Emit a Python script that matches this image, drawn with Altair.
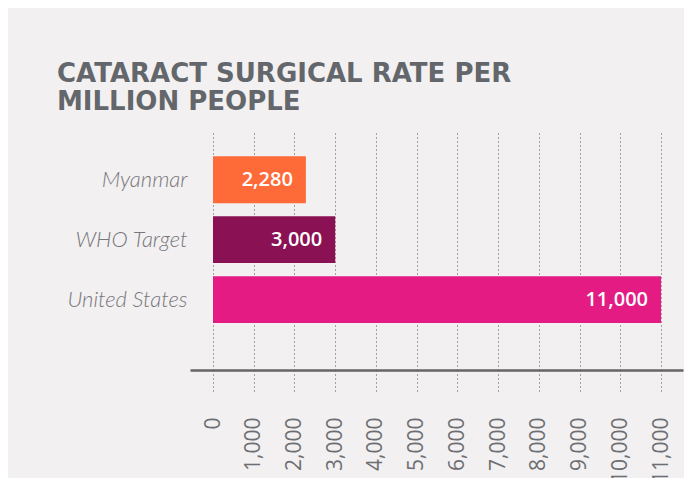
import altair as alt
import pandas as pd

categories = ["Myanmar", "WHO Target", "United States"]
values = [2280, 3000, 11000]
labels = ["2,280", "3,000", "11,000"]
colors = ["#FF6A39", "#8A1153", "#E31B83"]
tick_values = [0, 1000, 2000, 3000, 4000, 5000, 6000, 7000, 8000, 9000, 10000, 11000]

df = pd.DataFrame({"country": categories, "rate": values, "label": labels, "color": colors})

x_scale = alt.Scale(domain=[-565, 11540], nice=False, zero=False)
y_scale = alt.Scale(domain=categories, paddingInner=0.217, paddingOuter=0.592, align=0.34)

base = alt.Chart(df)

bars = base.mark_bar().encode(
    x=alt.X(
        "rate:Q",
        scale=x_scale,
        title=None,
        axis=alt.Axis(
            values=tick_values,
            format=",d",
            labelAngle=-90,
            labelFont="Open Sans",
            labelFontSize=21,
            labelColor="#6d6e71",
            labelPadding=24,
            tickSize=23,
            tickColor="#555555",
            tickDash=[1, 3],
            tickWidth=1,
            domainColor="#666666",
            domainWidth=2.5,
            grid=True,
            gridColor="#555555",
            gridDash=[1, 3],
            gridWidth=1,
            gridOpacity=1,
        ),
    ),
    y=alt.Y(
        "country:N",
        scale=y_scale,
        title=None,
        axis=alt.Axis(
            labelFont="Lato",
            labelFontStyle="italic",
            labelFontWeight=300,
            labelFontSize=22,
            labelColor="#77777b",
            labelPadding=3,
            ticks=False,
            domain=False,
        ),
    ),
    color=alt.Color("color:N", scale=None),
)

text = base.mark_text(
    align="right",
    baseline="middle",
    dx=-13,
    font="Open Sans",
    fontSize=20,
    fontWeight=600,
    color="white",
).encode(
    x=alt.X("rate:Q", scale=x_scale),
    y=alt.Y("country:N", scale=y_scale),
    text="label:N",
)

chart = alt.layer(bars, text).properties(
    width=493,
    height=238,
    title=alt.TitleParams(
        text=["CATARACT SURGICAL RATE PER", "MILLION PEOPLE"],
        anchor="start",
        frame="group",
        dx=-133,
        offset=17,
        font="DejaVu Sans",
        fontSize=26,
        fontWeight=700,
        lineHeight=28,
        color="#63666a",
    ),
    autosize=alt.AutoSizeParams(type="none"),
    padding={"left": 182, "top": 124, "right": 1, "bottom": 108},
    background="#f2f0f1",
).configure_view(stroke=None)

chart.save("out.html", embed_options={"renderer": "svg", "actions": False})
